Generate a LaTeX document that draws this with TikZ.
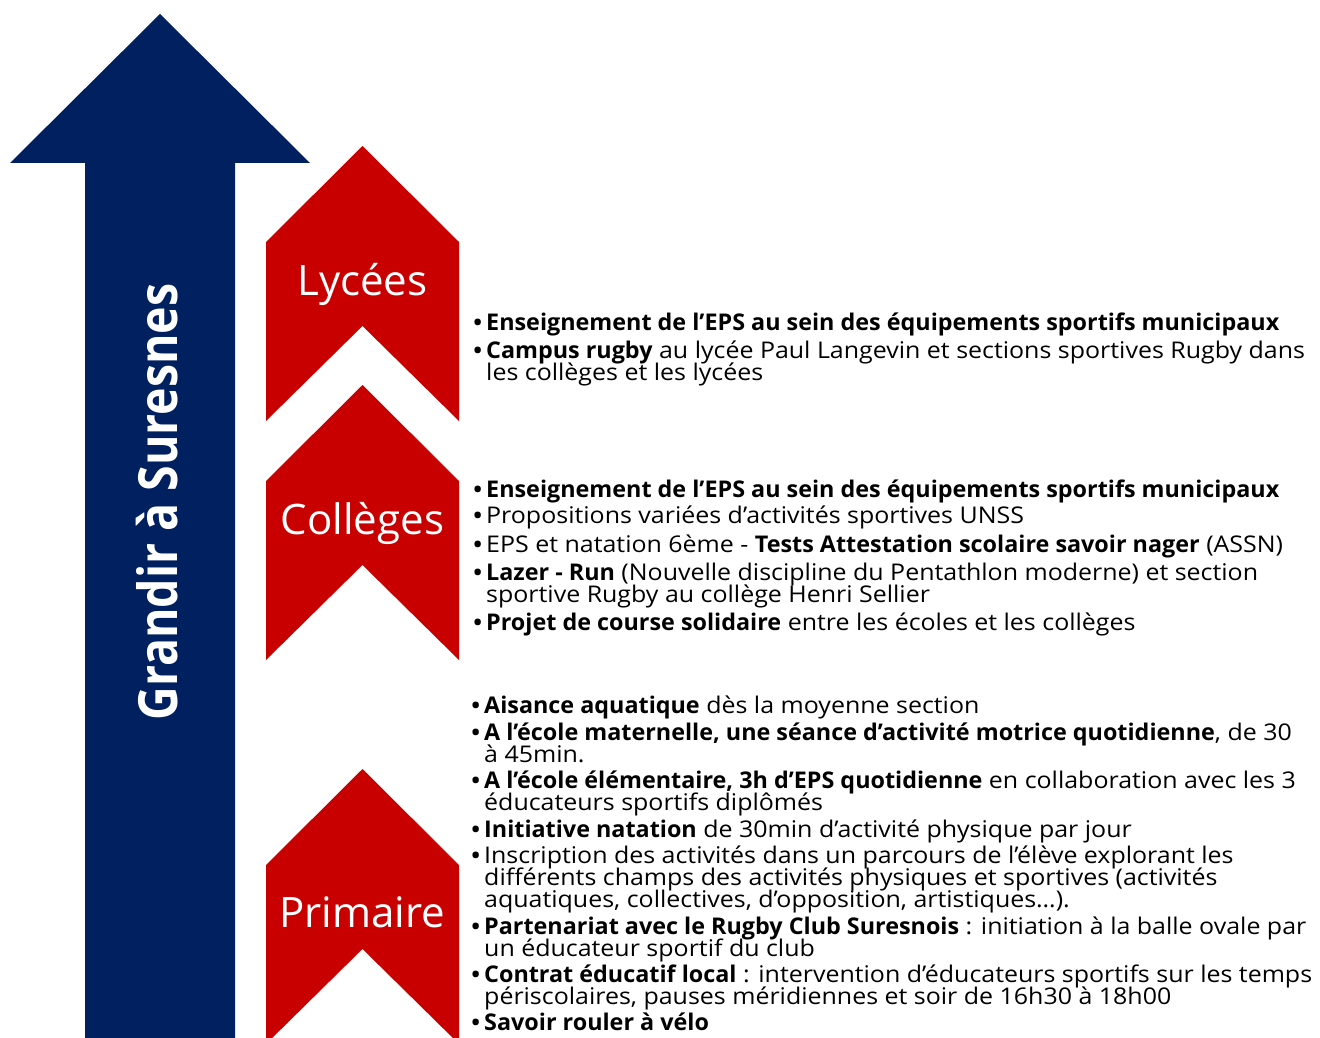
\documentclass[tikz,border=0pt]{standalone}
\usepackage{fontspec}
\setmainfont{Open Sans}[UprightFeatures={FakeStretch=1.085}, BoldFeatures={FakeStretch=1.015}]
\newfontfamily\stagefont{Open Sans}
\usetikzlibrary{calc}

\definecolor{navyblue}{HTML}{002060}
\definecolor{stagered}{HTML}{C80000}

\newcommand{\itemfont}{\fontsize{23}{22}\selectfont}
\newcommand{\bul}[1]{\makebox[14pt][l]{\rule{0pt}{20pt}\raisebox{-2.5pt}{\scalebox{1.2}{•}}}\parbox[t]{900pt}{\baselineskip=22pt\lineskiplimit=-100pt\raggedright\rule{0pt}{20pt}#1}}

\tikzset{
  item/.style={anchor=north west, inner sep=0pt, font=\itemfont},
  stage/.style={text=white, inner sep=0pt, font=\stagefont\fontsize{42}{42}\selectfont},
}

\begin{document}
\begin{tikzpicture}[x=1pt, y=-1pt]
            \useasboundingbox (0,0) rectangle (1320,1038);
            \clip (0,0) rectangle (1320,1038);

            % The big arrow
            \fill[navyblue] (160,14) -- (310,163) -- (235,163) -- (235,1040)
                -- (85,1040) -- (85,163) -- (10,163) -- cycle;
            \node[rotate=90, anchor=base, text=white, inner sep=0pt, font=\stagefont\bfseries\fontsize{54}{54}\selectfont]
                (title) at (177,502) {\scalebox{0.86}[1]{Grandir à Suresnes}};

            % The three stages
            \foreach \ty/\dy/\lab/\nm in {146/138/Lycées/lyc, 385/138/Collèges/col, 769/143/Primaire/pri} {
                \fill[stagered] (266,\ty+96) -- (362.5,\ty) -- (459,\ty+96) -- (459,\ty+275)
                    -- (362.5,\ty+180) -- (266,\ty+275) -- cycle;
                \node[stage] (\nm) at (362.5,\ty+\dy) {\lab};
            }

            % Lycées
            \node[item] (lyc1) at (472,310) {\bul{\textbf{Enseignement de l’EPS au sein des équipements sportifs municipaux}}};
            \node[item] (lyc2) at (472,338) {\bul{\textbf{Campus rugby} au lycée Paul Langevin et sections sportives Rugby dans\\ les collèges et les lycées}};

            % Collèges
            \node[item] (col1) at (472,477) {\bul{\textbf{Enseignement de l’EPS au sein des équipements sportifs municipaux}}};
            \node[item] (col2) at (472,503) {\bul{Propositions variées d’activités sportives UNSS}};
            \node[item] (col3) at (472,532) {\bul{EPS et natation 6ème - \textbf{Tests Attestation scolaire savoir nager} (ASSN)}};
            \node[item] (col4) at (472,560) {\bul{\textbf{Lazer - Run} (Nouvelle discipline du Pentathlon moderne) et section\\ sportive Rugby au collège Henri Sellier}};
            \node[item] (col5) at (472,610) {\bul{\textbf{Projet de course solidaire} entre les écoles et les collèges}};

            % Primaire
            \node[item] (pri1) at (470,693) {\bul{\textbf{Aisance aquatique} dès la moyenne section}};
            \node[item] (pri2) at (470,720) {\bul{\textbf{A l'école maternelle, une séance d'activité motrice quotidienne}, de 30\\ à 45min.}};
            \node[item] (pri3) at (470,768) {\bul{\textbf{A l'école élémentaire, 3h d'EPS quotidienne} en collaboration avec les 3\\ éducateurs sportifs diplômés}};
            \node[item] (pri4) at (470,817) {\bul{\textbf{Initiative natation} de 30min d'activité physique par jour}};
            \node[item] (pri5) at (470,843) {\bul{Inscription des activités dans un parcours de l’élève explorant les\\ différents champs des activités physiques et sportives (activités\\ aquatiques, collectives, d’opposition, artistiques…).}};
            \node[item] (pri6) at (470,914) {\bul{\textbf{Partenariat avec le Rugby Club Suresnois} : initiation à la balle ovale par\\ un éducateur sportif du club}};
            \node[item] (pri7) at (470,962) {\bul{\textbf{Contrat éducatif local} : intervention d’éducateurs sportifs sur les temps\\ périscolaires, pauses méridiennes et soir de 16h30 à 18h00}};
            \node[item] (pri8) at (470,1010) {\bul{\textbf{Savoir rouler à vélo}}};
\end{tikzpicture}
\end{document}
